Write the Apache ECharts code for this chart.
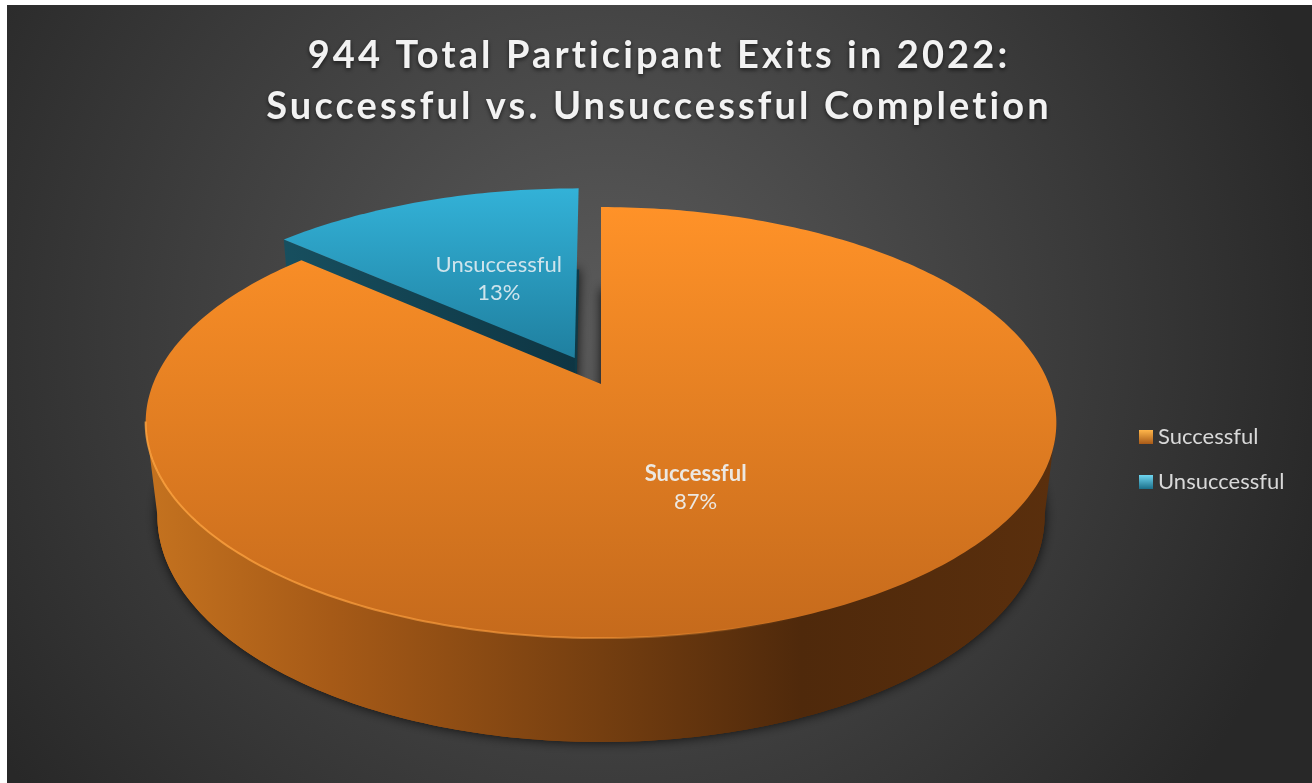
<!DOCTYPE html>
<html><head><meta charset="utf-8">
<style>html,body{margin:0;padding:0;background:#fff}#c{width:1312px;height:783px}</style>
<script src="https://cdn.jsdelivr.net/npm/echarts@6/dist/echarts.min.js"></script>
</head><body><div id="c"></div>
<script>
const categories = ['Successful', 'Unsuccessful'];
const exits = [817, 127];
const titleLines = ['944 Total Participant Exits in 2022:', 'Successful vs. Unsuccessful Completion'];

const TITLE_SIZE = 38, TITLE_SPACING = 3.12;
(function () {
  const proto = CanvasRenderingContext2D.prototype, orig = proto.fillText;
  proto.fillText = function (t, x, y, m) {
    this.letterSpacing = this.font.indexOf(TITLE_SIZE + 'px') >= 0 ? TITLE_SPACING + 'px' : '0px';
    return m === undefined ? orig.call(this, t, x, y) : orig.call(this, t, x, y, m);
  };
})();

const total = exits[0] + exits[1];
const share = exits.map(v => v / total);
const G = echarts.graphic;
const CX = 601, CY = 384, R = 448, KR = 208.6, P = 0.179, Q = 0.0256, H = 94.5;
function project(u, v, z) {
  const s = 1 / (1 - P * v + Q * z);
  return [CX + R * u * s, CY + (KR * v + H * z) * s];
}
const rad = d => d * Math.PI / 180;
function rim(from, to, du, dv, z) {
  const n = Math.max(8, Math.ceil(Math.abs(to - from) / 1)), pts = [];
  for (let i = 0; i <= n; i++) {
    const a = rad(from + (to - from) * i / n);
    pts.push(project(Math.sin(a) + du, -Math.cos(a) + dv, z));
  }
  return pts;
}
const lin = (x0, y0, x1, y1, stops) => new G.LinearGradient(x0, y0, x1, y1, stops.map(s => ({offset: s[0], color: s[1]})), true);
const sweep = share.map(s => s * 360);

function label(idx, midDeg, f, du, dv, bold, col) {
  const a = rad(midDeg);
  const p = project(Math.sin(a) * f + du, -Math.cos(a) * f + dv, 0);
  return {
    type: 'text', z2: 20, silent: true,
    style: {
      x: p[0], y: p[1], align: 'center', verticalAlign: 'middle',
      text: '{n|' + categories[idx] + '}\n{p|' + Math.round(share[idx] * 100) + '%}',
      rich: {
        n: {fontFamily: 'Lato', fontSize: 22, fontWeight: bold ? 'bold' : 'normal', fill: col, lineHeight: 28, align: 'center'},
        p: {fontFamily: 'Lato', fontSize: 22, fill: col, lineHeight: 28, align: 'center'}
      }
    }
  };
}

function orange() {
  const end = sweep[0];
  const top = rim(0, end, 0, 0, 0);
  const apex = project(0, 0, 0);
  const bottomFace = rim(0, end, 0, 0, 1).concat([project(0, 0, 1)]);
  const wallTop = rim(100, 260, 0, 0, 0);
  const wallBot = rim(100, 260, 0, 0, 1).reverse();
  const wallFill = lin(150, 0, 1055, 0, [[0, '#c4721f'], [0.2, '#a65a17'], [0.5, '#743e10'], [0.72, '#4f290b'], [1, '#5a2f0d']]);
  return {type: 'group', children: [
    {type: 'polygon', z2: 1, silent: true, shape: {points: bottomFace},
     style: {fill: '#4a2a10', shadowBlur: 12, shadowColor: 'rgba(0,0,0,0.8)'}},
    {type: 'polygon', z2: 2, silent: true, shape: {points: bottomFace}, style: {fill: wallFill}},
    {type: 'polygon', z2: 3, silent: true, shape: {points: wallTop.concat(wallBot)}, style: {fill: wallFill}},
    {type: 'polygon', z2: 4, silent: true, shape: {points: [apex].concat(top)},
     style: {fill: lin(0, 207, 0, 638, [[0, '#ff9228'], [1, '#c56a1c']])}},
    {type: 'polyline', z2: 5, silent: true, shape: {points: rim(130, 260, 0, 0, 0)},
     style: {fill: null, lineWidth: 2, stroke: lin(146, 0, 800, 0, [[0, 'rgba(255,165,65,0.8)'], [0.65, 'rgba(255,160,65,0.55)'], [1, 'rgba(255,165,70,0)']])}},
    label(0, end / 2, 0.49, -0.007, 0.01, true, '#ece8e2')
  ]};
}
function blue() {
  const DU = -0.06, DV = -0.127;
  const from = -sweep[1];
  const apex = project(DU, DV, 0), apexB = project(DU, DV, 1);
  const top = rim(from, 0, DU, DV, 0);
  const tip = top[0], tipB = project(Math.sin(rad(from)) + DU, -Math.cos(rad(from)) + DV, 1);
  const bottomFace = rim(from, 0, DU, DV, 1).concat([apexB]);
  return {type: 'group', children: [
    {type: 'polygon', z2: 1, silent: true, shape: {points: bottomFace},
     style: {fill: '#0f3a47', shadowBlur: 12, shadowColor: 'rgba(0,0,0,0.8)'}},
    {type: 'polygon', z2: 2, silent: true, shape: {points: [tip, apex, apexB, tipB]},
     style: {fill: lin(281, 0, 578, 0, [[0, '#174f5f'], [1, '#0e3543']])}},
    {type: 'polygon', z2: 3, silent: true, shape: {points: [apex].concat(top)},
     style: {fill: lin(0, 187, 0, 360, [[0, '#33b2d8'], [1, '#1f7f9f']])}},
    label(1, from / 2, 0.465, DU, DV, false, '#cfe4ec')
  ]};
}
const chart = echarts.init(document.getElementById('c'));
chart.setOption({
  animation: false,
  tooltip: {show: false},
  title: {
    left: 654, top: 25, textAlign: 'center',
    text: titleLines.join('\n'),
    textStyle: {fontFamily: 'Lato', fontWeight: 'bold', fontSize: TITLE_SIZE, lineHeight: 51, color: '#f2f2f2',
      textShadowColor: 'rgba(0,0,0,0.6)', textShadowBlur: 4, textShadowOffsetY: 2}
  },
  legend: {
    orient: 'vertical', left: 1134, top: 421, itemGap: 23, itemWidth: 14, itemHeight: 14, icon: 'rect',
    selectedMode: false, data: categories,
    textStyle: {fontFamily: 'Lato', fontSize: 22, color: '#d9d9d9'}
  },
  graphic: [{type: 'rect', z: -10, silent: true, shape: {x: 7, y: 5, width: 1305, height: 778},
    style: {fill: new G.RadialGradient(0.46, 0.42, 0.95, [{offset: 0, color: '#5b5b5b'}, {offset: 1, color: '#282828'}])}}],
  series: [
    {type: 'custom', name: categories[0], coordinateSystem: 'none', z: 4, data: [[exits[0]]], renderItem: orange,
     itemStyle: {color: new G.LinearGradient(0, 0, 0, 1, [{offset: 0, color: '#ffb64a'}, {offset: 1, color: '#a85a18'}])}},
    {type: 'custom', name: categories[1], coordinateSystem: 'none', z: 3, data: [[exits[1]]], renderItem: blue,
     itemStyle: {color: new G.LinearGradient(0, 0, 0, 1, [{offset: 0, color: '#6fd6f0'}, {offset: 1, color: '#1b6f8a'}])}}
  ]
});
</script></body></html>
